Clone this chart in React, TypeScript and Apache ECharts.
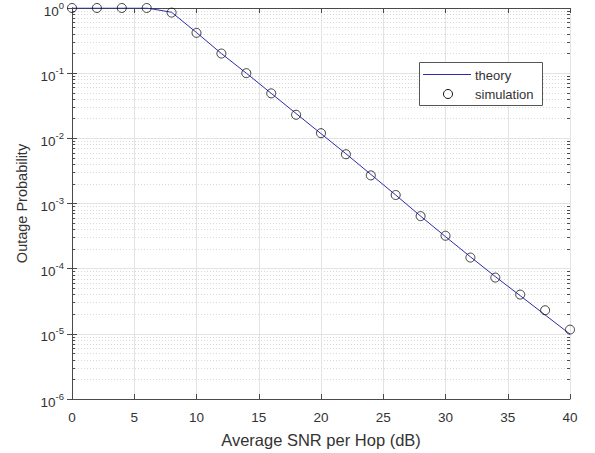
import React, { useEffect, useRef } from "react";
import * as echarts from "echarts";

const snr = [0, 2, 4, 6, 8, 10, 12, 14, 16, 18, 20, 22, 24, 26, 28, 30, 32, 34, 36, 38, 40];
const theory = [1, 1, 1, 1, 0.86, 0.42, 0.2, 0.1, 0.049, 0.024, 0.0118, 0.0058, 0.0028, 0.00135, 0.00064, 0.00031, 0.000152, 0.0000755, 0.0000385, 0.0000195, 0.0000099];
const simulation = [1, 1, 1, 1, 0.85, 0.415, 0.2, 0.1, 0.049, 0.023, 0.012, 0.0057, 0.0027, 0.00135, 0.00064, 0.00032, 0.000148, 0.000073, 0.00004, 0.000023, 0.0000116];
const xTickInterval = 5;
const yMin = 1e-6;
const yMax = 1;
const minorMultipliers = [2, 3, 4, 5, 6, 7, 8, 9];
const decadeExponents = [-6, -5, -4, -3, -2, -1];

const minorLogValues: number[] = [];
decadeExponents.forEach((e) => minorMultipliers.forEach((m) => minorLogValues.push(e + Math.log10(m))));

export default function App() {
  const ref = useRef<HTMLDivElement>(null);
  useEffect(() => {
    if (!ref.current) return;
    const chart = echarts.init(ref.current, undefined, { renderer: "svg" });
    const axisColor = "#4a4a4a";
    const textColor = "#333";
    const font = "Liberation Sans";
    const baseX = {
      type: "value" as const,
      min: 0,
      max: 40,
      interval: xTickInterval,
      axisLine: { show: true, onZero: false, lineStyle: { color: axisColor, width: 1 } },
      axisTick: { show: true, inside: true, length: 5, lineStyle: { color: axisColor } },
    };
    chart.setOption({
      animation: false,
      backgroundColor: "#fff",
      grid: { left: 72, right: 25, top: 5, bottom: 54, containLabel: false },
      xAxis: [
        {
          ...baseX,
          position: "bottom",
          name: "Average SNR per Hop (dB)",
          nameLocation: "middle",
          nameGap: 32,
          nameTextStyle: { color: textColor, fontSize: 16.5, fontFamily: font },
          axisLabel: { color: textColor, fontSize: 13.5, fontFamily: font, margin: 11 },
          splitLine: { show: true, lineStyle: { color: "#e3e3e3", width: 1 } },
        },
        {
          ...baseX,
          position: "top",
          axisLabel: { show: false },
          splitLine: { show: false },
        },
      ],
      yAxis: [
        {
          type: "log",
          logBase: 10,
          min: yMin,
          max: yMax,
          position: "left",
          name: "Outage Probability",
          nameLocation: "middle",
          nameGap: 42,
          nameRotate: 90,
          nameTextStyle: { color: textColor, fontSize: 14.5, fontFamily: font },
          axisLine: { show: true, lineStyle: { color: axisColor, width: 1 } },
          axisTick: { show: true, inside: true, length: 5, lineStyle: { color: axisColor } },
          axisLabel: {
            margin: 8,
            formatter: (v: number) => `{b|10}{s|${Math.round(Math.log10(v))}}`,
            rich: {
              b: { color: textColor, fontSize: 13.5, fontFamily: font, padding: [6, 0, 0, 0] },
              s: { color: textColor, fontSize: 9.5, fontFamily: font, padding: [0, 0, 6, 0] },
            },
          },
          splitLine: { show: true, lineStyle: { color: "#e3e3e3", width: 1 } },
        },
        {
          type: "log",
          logBase: 10,
          min: yMin,
          max: yMax,
          position: "right",
          axisLine: { show: true, lineStyle: { color: axisColor, width: 1 } },
          axisTick: { show: true, inside: true, length: 5, lineStyle: { color: axisColor } },
          axisLabel: { show: false },
          splitLine: { show: false },
        },
        {
          type: "value",
          min: -6,
          max: 0,
          position: "left",
          axisLine: { show: false },
          axisTick: { show: true, inside: true, length: 3, customValues: minorLogValues, lineStyle: { color: axisColor } },
          axisLabel: { show: false, customValues: minorLogValues },
          splitLine: { show: true, lineStyle: { color: "#d8d8d8", type: [1, 2], width: 1 } },
        },
        {
          type: "value",
          min: -6,
          max: 0,
          position: "right",
          axisLine: { show: false },
          axisTick: { show: true, inside: true, length: 3, customValues: minorLogValues, lineStyle: { color: axisColor } },
          axisLabel: { show: false, customValues: minorLogValues },
          splitLine: { show: false },
        },
      ],
      series: [
        {
          name: "theory",
          type: "line",
          xAxisIndex: 0,
          yAxisIndex: 0,
          data: snr.map((x, i) => [x, theory[i]]),
          showSymbol: false,
          lineStyle: { color: "#2b2bb0", width: 1 },
          z: 3,
        },
        {
          name: "simulation",
          type: "scatter",
          xAxisIndex: 0,
          yAxisIndex: 0,
          data: snr.map((x, i) => [x, simulation[i]]),
          symbol: "circle",
          symbolSize: 9,
          itemStyle: { color: "rgba(0,0,0,0)", borderColor: "#111", borderWidth: 1 },
          z: 4,
        },
      ],
      graphic: [
        { type: "rect", z: 10, shape: { x: 419.5, y: 62.5, width: 123, height: 43 }, style: { fill: "#fff", stroke: "#555", lineWidth: 1 } },
        { type: "line", z: 11, shape: { x1: 423, y1: 74.5, x2: 471, y2: 74.5 }, style: { stroke: "#2b2bb0", lineWidth: 1 } },
        { type: "text", z: 11, x: 475, y: 75, style: { text: "theory", fill: textColor, fontSize: 13, fontFamily: font, verticalAlign: "middle", align: "left" } },
        { type: "circle", z: 11, shape: { cx: 448, cy: 94, r: 4.5 }, style: { fill: "none", stroke: "#111", lineWidth: 1 } },
        { type: "text", z: 11, x: 475, y: 94, style: { text: "simulation", fill: textColor, fontSize: 13, fontFamily: font, verticalAlign: "middle", align: "left" } },
      ],
    });
    return () => chart.dispose();
  }, []);
  return <div ref={ref} style={{ width: 595, height: 453, position: "absolute", left: 0, top: 0 }} />;
}
